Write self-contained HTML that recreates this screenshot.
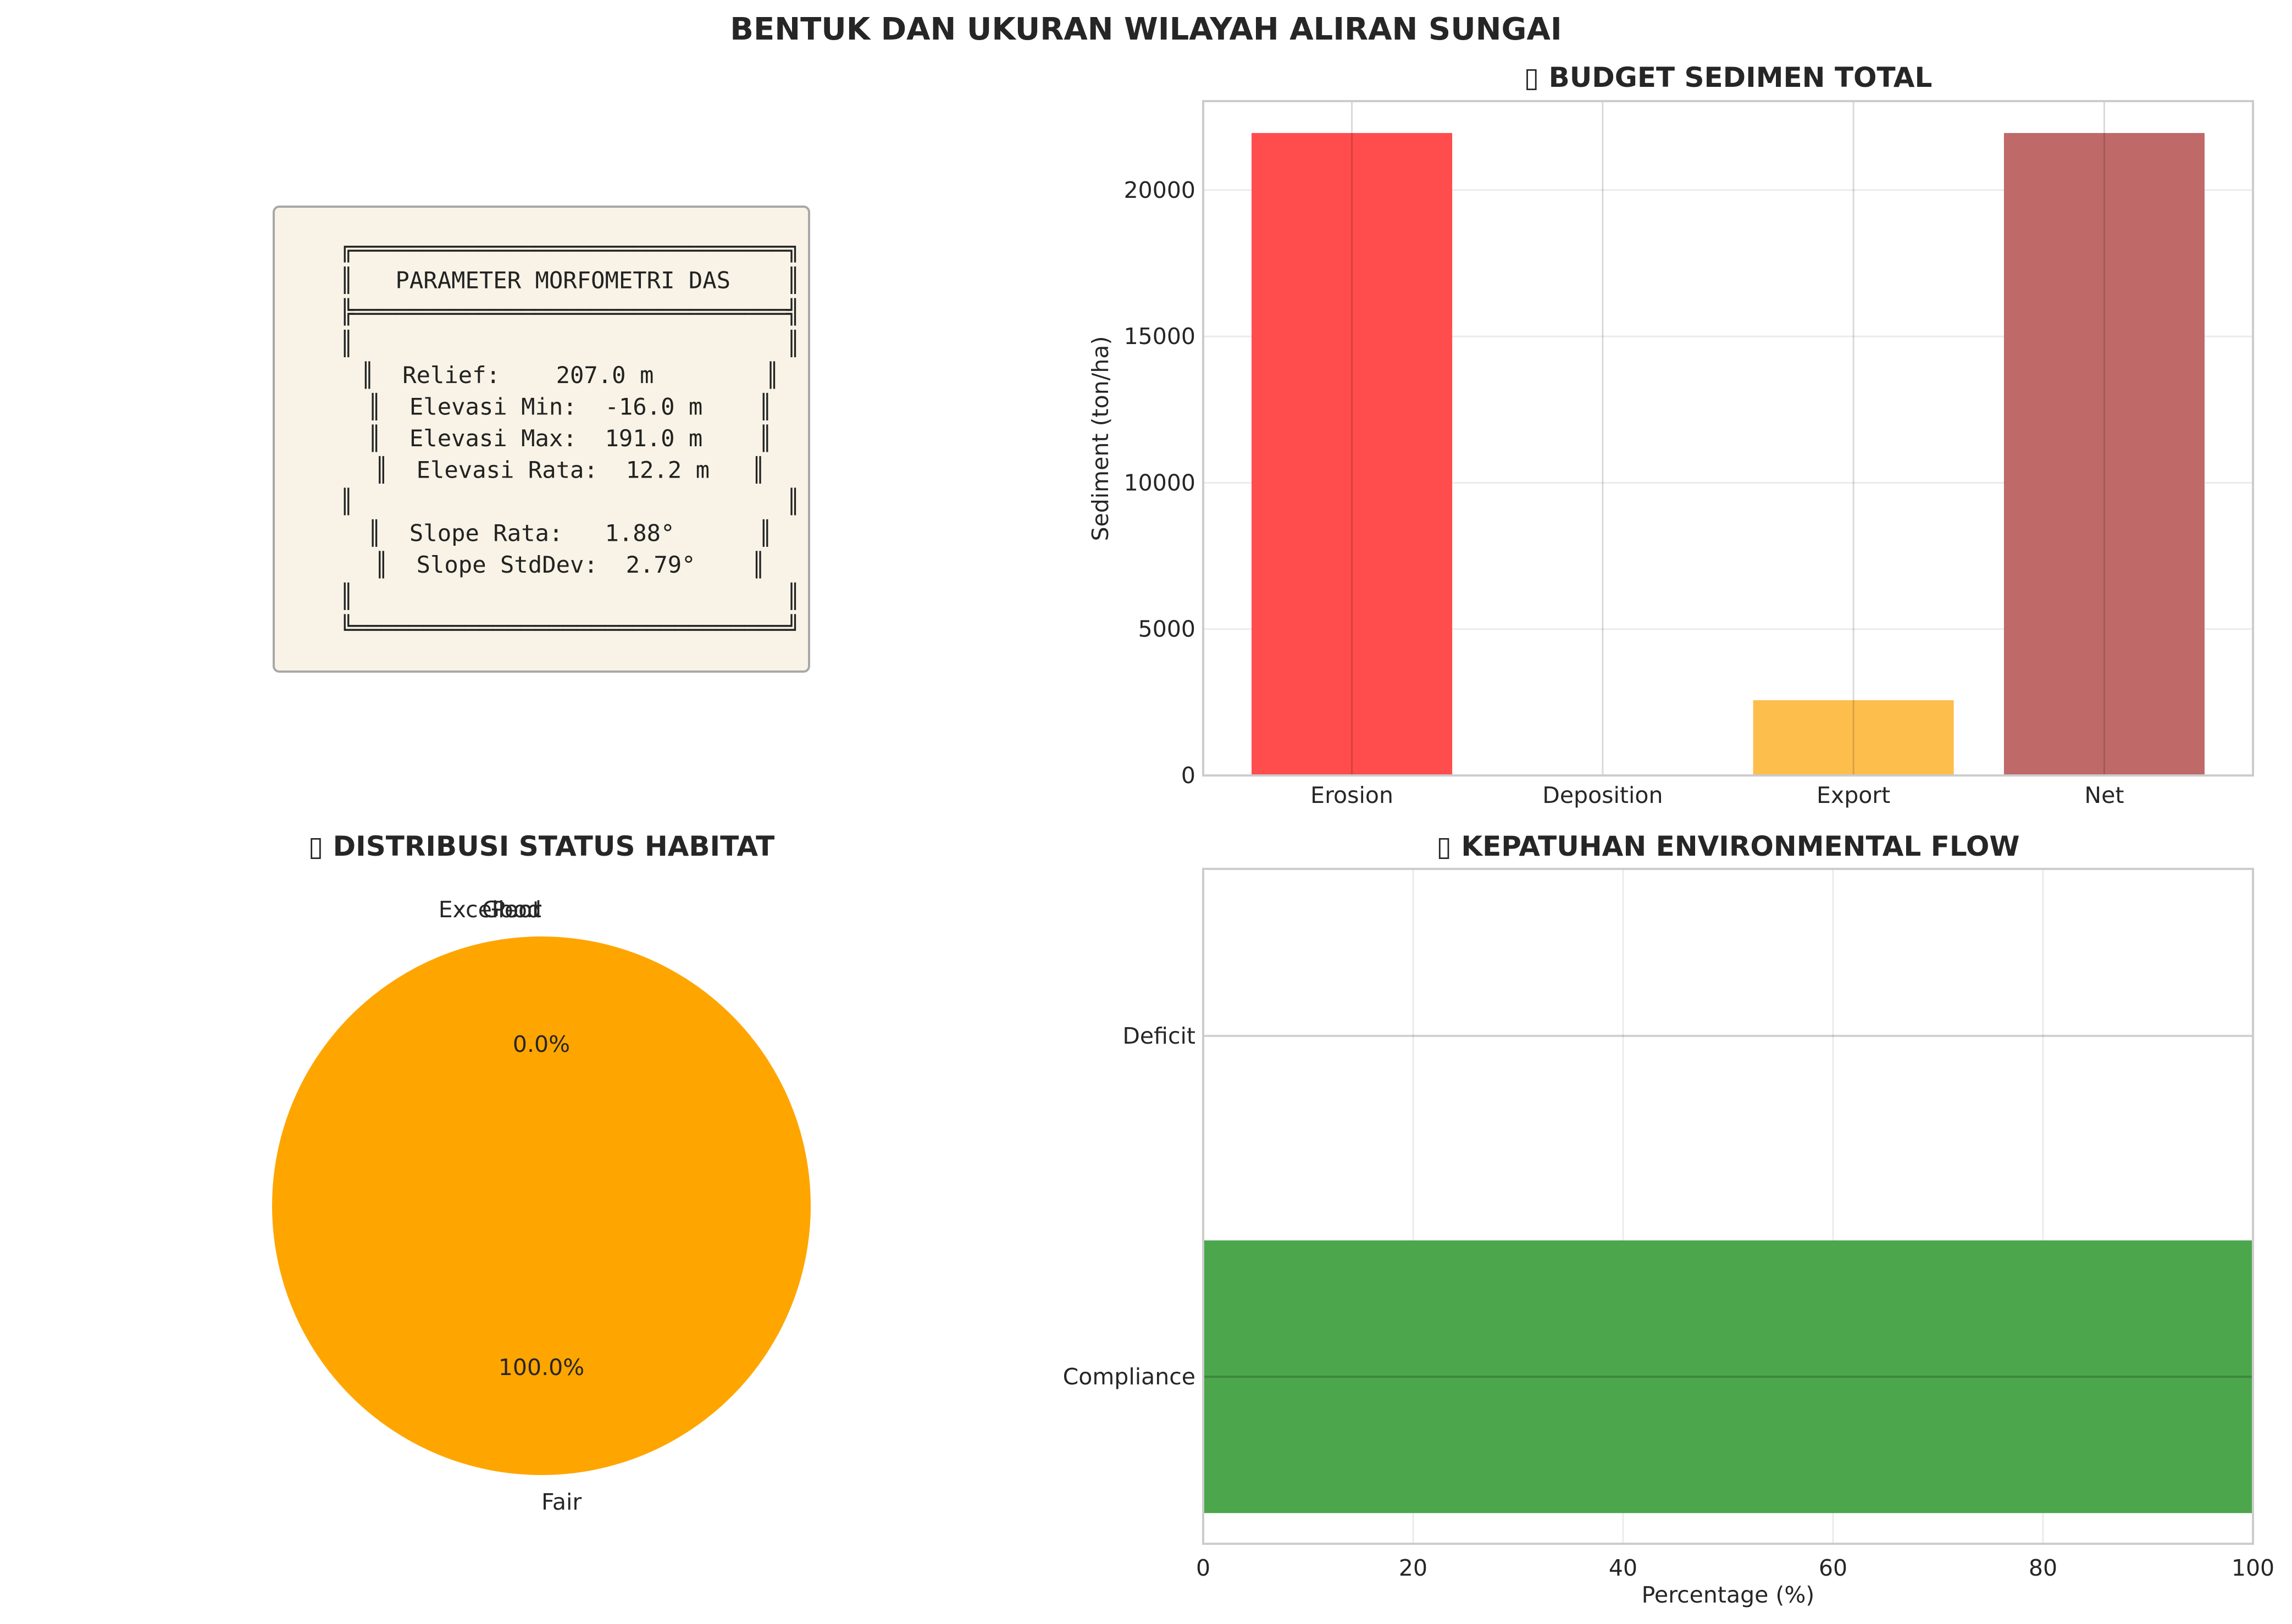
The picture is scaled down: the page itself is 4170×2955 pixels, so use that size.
<!DOCTYPE html>
<html><head><meta charset="utf-8"><style>
html,body{margin:0;padding:0;background:#fff}
svg{display:block}
text{font-family:"DejaVu Sans","Liberation Sans",sans-serif;fill:#262626}
.mono{font-family:"DejaVu Sans Mono","Liberation Mono",monospace;font-size:42.2px;fill:#222}
.tick{font-size:41px}
.ttl{font-size:50px;font-weight:bold}
</style></head><body>
<svg id="fig" width="4170" height="2955" viewBox="0 0 4170 2955" xmlns="http://www.w3.org/2000/svg">
<rect width="4170" height="2955" fill="#fff"/>
<text x="2085" y="72" text-anchor="middle" style="font-size:56px;font-weight:bold">BENTUK DAN UKURAN WILAYAH ALIRAN SUNGAI</text>

<g>
<rect x="498" y="376" width="974" height="846" rx="10" fill="#f8f3e6" stroke="#a8a8a8" stroke-width="4"/>
<g id="boxtext" xml:space="preserve"></g>
</g>

<g id="sed"></g>
<g id="pie"></g>
<g id="flow"></g>
</svg>
<script>
const boxLines = [
"╔═══════════════════════════════╗",
"║   PARAMETER MORFOMETRI DAS    ║",
"╠═══════════════════════════════╣",
"║                               ║",
"║  Relief:    207.0 m        ║",
"║  Elevasi Min:  -16.0 m    ║",
"║  Elevasi Max:  191.0 m    ║",
"║  Elevasi Rata:  12.2 m   ║",
"║                               ║",
"║  Slope Rata:   1.88°      ║",
"║  Slope StdDev:  2.79°    ║",
"║                               ║",
"╚═══════════════════════════════╝"];

const sedCategories = ["Erosion","Deposition","Export","Net"];
const sedValues = [21950, 0, 2570, 21950];
const sedColors = ["#ff4c4c","#6699cc","#fdbe4c","#bf6969"];
const sedTicks = [0,5000,10000,15000,20000];

const pieLabels = ["Excellent","Good","Fair","Poor"];
const pieValues = [0, 0, 100, 0];

const flowCategories = ["Compliance","Deficit"];
const flowValues = [100, 0];
const flowTicks = [0,20,40,60,80,100];

const NS="http://www.w3.org/2000/svg";
function mk(tag, attrs, parent, txt){
  const e=document.createElementNS(NS,tag);
  for(const k in attrs) e.setAttribute(k, attrs[k]);
  if(txt!==undefined) e.textContent=txt;
  parent.appendChild(e); return e;
}

// text box
const bt=document.getElementById('boxtext');
boxLines.forEach((l,i)=>{
  const t=mk('text',{x:1037,y:467+i*57.5,'text-anchor':'middle','class':'mono'},bt,l);
  t.setAttribute('xml:space','preserve');
  t.style.whiteSpace='pre';
  
  
});

// sediment bar chart
(function(){
  const g=document.getElementById('sed');
  const L=2189,R=4099,T=184,B=1411;
  const xmin=-0.593,xmax=3.593,ymax=23040;
  const X=v=>L+(v-xmin)/(xmax-xmin)*(R-L);
  const Y=v=>B-v/ymax*(B-T);
  sedTicks.forEach(v=>{
    mk('line',{x1:L,x2:R,y1:Y(v),y2:Y(v),stroke:'#ebebeb','stroke-width':3},g);
    const t=mk('text',{x:L-14,y:Y(v)+14,'text-anchor':'end','class':'tick'},g,String(v));
    
    
  });
  sedCategories.forEach((c,i)=>{
    const w=0.8;
    const r=mk('rect',{x:X(i-w/2),y:Y(sedValues[i]),width:X(i+w/2)-X(i-w/2),height:B-Y(sedValues[i]),fill:sedColors[i]},g);
    
    
  });
  sedCategories.forEach((c,i)=>{
    mk('line',{x1:X(i),x2:X(i),y1:T,y2:B,stroke:'#000','stroke-opacity':0.15,'stroke-width':3},g);
    const t=mk('text',{x:X(i),y:B+50,'text-anchor':'middle','class':'tick'},g,c);
    
    
  });
  mk('rect',{x:L,y:T,width:R-L,height:B-T,fill:'none',stroke:'#cccccc','stroke-width':4},g);
  const yl=mk('text',{x:0,y:0,transform:'translate(2016,798) rotate(-90)','text-anchor':'middle','class':'tick'},g,'Sediment (ton/ha)');
  
  
  const tt=mk('text',{x:(L+R)/2,y:158,'text-anchor':'middle','class':'ttl'},g,'▯ BUDGET SEDIMEN TOTAL');
  
  
})();

// pie chart
(function(){
  const g=document.getElementById('pie');
  const cx=985,cy=2194,r=490;
  const colors={"Excellent":"#228b22","Good":"#90ee90","Fair":"#ffa500","Poor":"#ff4500"};
  const total=pieValues.reduce((a,b)=>a+b,0);
  let ang=90;
  pieLabels.forEach((lab,i)=>{
    const frac=pieValues[i]/total, sweep=frac*360;
    const a0=ang*Math.PI/180, a1=(ang+sweep)*Math.PI/180;
    if(frac>=0.9999){
      const c=mk('circle',{cx,cy,r,fill:colors[lab]},g);
      
      
    } else if(frac>0){
      const p=mk('path',{d:`M${cx},${cy} L${cx+r*Math.cos(a0)},${cy-r*Math.sin(a0)} A${r},${r} 0 ${sweep>180?1:0} 0 ${cx+r*Math.cos(a1)},${cy-r*Math.sin(a1)} Z`,fill:colors[lab]},g);
      
      
    }
    const mid=(ang+sweep/2)*Math.PI/180;
    const lx=cx+1.1*r*Math.cos(mid), ly=cy-1.1*r*Math.sin(mid);
    const cs=Math.cos(mid);
    let anchor;
    if(Math.abs(cs)>0.01) anchor = cs>0?'start':'end';
    else anchor = Math.sin(mid)>0?'end':'start';
    const tl=mk('text',{x:lx,y:ly+14,'text-anchor':anchor,'class':'tick'},g,lab);
    
    
    const px=cx+0.6*r*Math.cos(mid), py=cy-0.6*r*Math.sin(mid);
    const tp=mk('text',{x:px,y:py+14,'text-anchor':'middle','class':'tick'},g,(frac*100).toFixed(1)+'%');
    
    
    ang+=sweep;
  });
  const tt=mk('text',{x:cx,y:1557,'text-anchor':'middle','class':'ttl'},g,'▯ DISTRIBUSI STATUS HABITAT');
  
  
})();

// e-flow horizontal bar chart
(function(){
  const g=document.getElementById('flow');
  const L=2189,R=4099,T=1581,B=2809;
  const ymin=-0.49,ymax=1.49;
  const X=v=>L+v/100*(R-L);
  const Y=v=>B-(v-ymin)/(ymax-ymin)*(B-T);
  flowTicks.forEach(v=>{
    mk('line',{x1:X(v),x2:X(v),y1:T,y2:B,stroke:'#ebebeb','stroke-width':3},g);
    const t=mk('text',{x:X(v),y:B+58,'text-anchor':'middle','class':'tick'},g,String(v));
    
    
  });
  flowCategories.forEach((c,i)=>{
    const h=0.8;
    const r=mk('rect',{x:X(0),y:Y(i+h/2),width:X(flowValues[i])-X(0),height:Y(i-h/2)-Y(i+h/2),fill:'#4ca64c'},g);
    
    
  });
  flowCategories.forEach((c,i)=>{
    mk('line',{x1:L,x2:R,y1:Y(i),y2:Y(i),stroke:'#000','stroke-opacity':0.18,'stroke-width':4},g);
    const t=mk('text',{x:L-14,y:Y(i)+14,'text-anchor':'end','class':'tick'},g,c);
    
    
  });
  mk('rect',{x:L,y:T,width:R-L,height:B-T,fill:'none',stroke:'#cccccc','stroke-width':4},g);
  const xl=mk('text',{x:(L+R)/2,y:2916,'text-anchor':'middle','class':'tick'},g,'Percentage (%)');
  
  
  const tt=mk('text',{x:(L+R)/2,y:1557,'text-anchor':'middle','class':'ttl'},g,'▯ KEPATUHAN ENVIRONMENTAL FLOW');
  
  
})();
</script>
</body></html>
